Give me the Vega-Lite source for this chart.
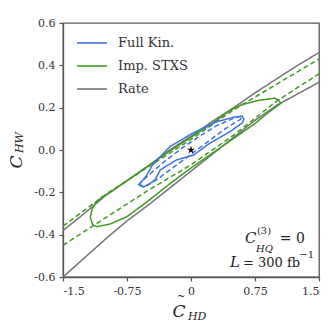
{
  "$schema": "https://vega.github.io/schema/vega-lite/v6.json",
  "autosize": "none",
  "width": 256,
  "height": 254,
  "padding": {"left": 63, "top": 23, "right": 13, "bottom": 55},
  "background": "white",
  "config": {
    "view": {"stroke": "#555", "strokeWidth": 1.3},
    "axis": {"grid": false, "domainColor": "#555", "domainWidth": 1.3, "tickColor": "#555", "tickSize": 4, "tickWidth": 1.2, "labelFont": "DejaVu Serif", "labelFontSize": 11, "labelColor": "#333", "labelPadding": 4, "title": null},
    "legend": {"orient": "none", "legendX": 13, "legendY": 4, "symbolType": "stroke", "symbolSize": 900, "symbolStrokeWidth": 1.6, "labelFont": "DejaVu Serif", "labelFontSize": 13, "labelColor": "#333", "rowPadding": -10, "labelOffset": 10, "padding": 0, "title": null}
  },
  "layer": [
    {
      "data": {"values": [
        {"c": "rate_up", "g": "Rate", "d": "solid", "o": 0, "x": -1.5, "y": -0.38},
        {"c": "rate_up", "g": "Rate", "d": "solid", "o": 1, "x": -1.25, "y": -0.3},
        {"c": "rate_up", "g": "Rate", "d": "solid", "o": 2, "x": -1.0, "y": -0.215},
        {"c": "rate_up", "g": "Rate", "d": "solid", "o": 3, "x": -0.75, "y": -0.145},
        {"c": "rate_up", "g": "Rate", "d": "solid", "o": 4, "x": -0.5, "y": -0.075},
        {"c": "rate_up", "g": "Rate", "d": "solid", "o": 5, "x": -0.25, "y": 0.0},
        {"c": "rate_up", "g": "Rate", "d": "solid", "o": 6, "x": 0.0, "y": 0.065},
        {"c": "rate_up", "g": "Rate", "d": "solid", "o": 7, "x": 0.25, "y": 0.135},
        {"c": "rate_up", "g": "Rate", "d": "solid", "o": 8, "x": 0.5, "y": 0.2},
        {"c": "rate_up", "g": "Rate", "d": "solid", "o": 9, "x": 0.75, "y": 0.27},
        {"c": "rate_up", "g": "Rate", "d": "solid", "o": 10, "x": 1.0, "y": 0.335},
        {"c": "rate_up", "g": "Rate", "d": "solid", "o": 11, "x": 1.25, "y": 0.4},
        {"c": "rate_up", "g": "Rate", "d": "solid", "o": 12, "x": 1.5, "y": 0.46},
        {"c": "rate_lo", "g": "Rate", "d": "solid", "o": 0, "x": -1.5, "y": -0.6},
        {"c": "rate_lo", "g": "Rate", "d": "solid", "o": 1, "x": -1.25, "y": -0.51},
        {"c": "rate_lo", "g": "Rate", "d": "solid", "o": 2, "x": -1.0, "y": -0.42},
        {"c": "rate_lo", "g": "Rate", "d": "solid", "o": 3, "x": -0.75, "y": -0.335},
        {"c": "rate_lo", "g": "Rate", "d": "solid", "o": 4, "x": -0.5, "y": -0.26},
        {"c": "rate_lo", "g": "Rate", "d": "solid", "o": 5, "x": -0.25, "y": -0.18},
        {"c": "rate_lo", "g": "Rate", "d": "solid", "o": 6, "x": 0.0, "y": -0.1},
        {"c": "rate_lo", "g": "Rate", "d": "solid", "o": 7, "x": 0.25, "y": -0.02},
        {"c": "rate_lo", "g": "Rate", "d": "solid", "o": 8, "x": 0.5, "y": 0.06},
        {"c": "rate_lo", "g": "Rate", "d": "solid", "o": 9, "x": 0.75, "y": 0.14},
        {"c": "rate_lo", "g": "Rate", "d": "solid", "o": 10, "x": 1.0, "y": 0.21},
        {"c": "rate_lo", "g": "Rate", "d": "solid", "o": 11, "x": 1.25, "y": 0.265},
        {"c": "rate_lo", "g": "Rate", "d": "solid", "o": 12, "x": 1.5, "y": 0.32},
        {"c": "stxs_dup", "g": "Imp. STXS", "d": "dashed", "o": 0, "x": -1.5, "y": -0.36},
        {"c": "stxs_dup", "g": "Imp. STXS", "d": "dashed", "o": 1, "x": -1.0, "y": -0.21},
        {"c": "stxs_dup", "g": "Imp. STXS", "d": "dashed", "o": 2, "x": -0.5, "y": -0.08},
        {"c": "stxs_dup", "g": "Imp. STXS", "d": "dashed", "o": 3, "x": 0.0, "y": 0.05},
        {"c": "stxs_dup", "g": "Imp. STXS", "d": "dashed", "o": 4, "x": 0.5, "y": 0.19},
        {"c": "stxs_dup", "g": "Imp. STXS", "d": "dashed", "o": 5, "x": 1.0, "y": 0.31},
        {"c": "stxs_dup", "g": "Imp. STXS", "d": "dashed", "o": 6, "x": 1.5, "y": 0.43},
        {"c": "stxs_dlo", "g": "Imp. STXS", "d": "dashed", "o": 0, "x": -1.5, "y": -0.45},
        {"c": "stxs_dlo", "g": "Imp. STXS", "d": "dashed", "o": 1, "x": -1.0, "y": -0.32},
        {"c": "stxs_dlo", "g": "Imp. STXS", "d": "dashed", "o": 2, "x": -0.5, "y": -0.19},
        {"c": "stxs_dlo", "g": "Imp. STXS", "d": "dashed", "o": 3, "x": 0.0, "y": -0.07},
        {"c": "stxs_dlo", "g": "Imp. STXS", "d": "dashed", "o": 4, "x": 0.5, "y": 0.07},
        {"c": "stxs_dlo", "g": "Imp. STXS", "d": "dashed", "o": 5, "x": 1.0, "y": 0.23},
        {"c": "stxs_dlo", "g": "Imp. STXS", "d": "dashed", "o": 6, "x": 1.5, "y": 0.36},
        {"c": "stxs_s", "g": "Imp. STXS", "d": "solid", "o": 0, "x": -1.18, "y": -0.32},
        {"c": "stxs_s", "g": "Imp. STXS", "d": "solid", "o": 1, "x": -1.16, "y": -0.28},
        {"c": "stxs_s", "g": "Imp. STXS", "d": "solid", "o": 2, "x": -1.12, "y": -0.25},
        {"c": "stxs_s", "g": "Imp. STXS", "d": "solid", "o": 3, "x": -1.05, "y": -0.225},
        {"c": "stxs_s", "g": "Imp. STXS", "d": "solid", "o": 4, "x": -0.95, "y": -0.2},
        {"c": "stxs_s", "g": "Imp. STXS", "d": "solid", "o": 5, "x": -0.75, "y": -0.145},
        {"c": "stxs_s", "g": "Imp. STXS", "d": "solid", "o": 6, "x": -0.5, "y": -0.075},
        {"c": "stxs_s", "g": "Imp. STXS", "d": "solid", "o": 7, "x": -0.25, "y": -0.005},
        {"c": "stxs_s", "g": "Imp. STXS", "d": "solid", "o": 8, "x": 0.0, "y": 0.06},
        {"c": "stxs_s", "g": "Imp. STXS", "d": "solid", "o": 9, "x": 0.25, "y": 0.125},
        {"c": "stxs_s", "g": "Imp. STXS", "d": "solid", "o": 10, "x": 0.45, "y": 0.185},
        {"c": "stxs_s", "g": "Imp. STXS", "d": "solid", "o": 11, "x": 0.6, "y": 0.215},
        {"c": "stxs_s", "g": "Imp. STXS", "d": "solid", "o": 12, "x": 0.7, "y": 0.225},
        {"c": "stxs_s", "g": "Imp. STXS", "d": "solid", "o": 13, "x": 0.8, "y": 0.235},
        {"c": "stxs_s", "g": "Imp. STXS", "d": "solid", "o": 14, "x": 0.9, "y": 0.24},
        {"c": "stxs_s", "g": "Imp. STXS", "d": "solid", "o": 15, "x": 0.98, "y": 0.245},
        {"c": "stxs_s", "g": "Imp. STXS", "d": "solid", "o": 16, "x": 1.03, "y": 0.235},
        {"c": "stxs_s", "g": "Imp. STXS", "d": "solid", "o": 17, "x": 1.05, "y": 0.22},
        {"c": "stxs_s", "g": "Imp. STXS", "d": "solid", "o": 18, "x": 1.0, "y": 0.205},
        {"c": "stxs_s", "g": "Imp. STXS", "d": "solid", "o": 19, "x": 0.9, "y": 0.175},
        {"c": "stxs_s", "g": "Imp. STXS", "d": "solid", "o": 20, "x": 0.75, "y": 0.125},
        {"c": "stxs_s", "g": "Imp. STXS", "d": "solid", "o": 21, "x": 0.5, "y": 0.055},
        {"c": "stxs_s", "g": "Imp. STXS", "d": "solid", "o": 22, "x": 0.25, "y": -0.015},
        {"c": "stxs_s", "g": "Imp. STXS", "d": "solid", "o": 23, "x": 0.0, "y": -0.085},
        {"c": "stxs_s", "g": "Imp. STXS", "d": "solid", "o": 24, "x": -0.25, "y": -0.16},
        {"c": "stxs_s", "g": "Imp. STXS", "d": "solid", "o": 25, "x": -0.5, "y": -0.24},
        {"c": "stxs_s", "g": "Imp. STXS", "d": "solid", "o": 26, "x": -0.75, "y": -0.315},
        {"c": "stxs_s", "g": "Imp. STXS", "d": "solid", "o": 27, "x": -0.95, "y": -0.35},
        {"c": "stxs_s", "g": "Imp. STXS", "d": "solid", "o": 28, "x": -1.1, "y": -0.362},
        {"c": "stxs_s", "g": "Imp. STXS", "d": "solid", "o": 29, "x": -1.15, "y": -0.355},
        {"c": "stxs_s", "g": "Imp. STXS", "d": "solid", "o": 30, "x": -1.18, "y": -0.32},
        {"c": "fk_s", "g": "Full Kin.", "d": "solid", "o": 0, "x": -0.6, "y": -0.16},
        {"c": "fk_s", "g": "Full Kin.", "d": "solid", "o": 1, "x": -0.52, "y": -0.12},
        {"c": "fk_s", "g": "Full Kin.", "d": "solid", "o": 2, "x": -0.45, "y": -0.07},
        {"c": "fk_s", "g": "Full Kin.", "d": "solid", "o": 3, "x": -0.25, "y": 0.015},
        {"c": "fk_s", "g": "Full Kin.", "d": "solid", "o": 4, "x": 0.0, "y": 0.075},
        {"c": "fk_s", "g": "Full Kin.", "d": "solid", "o": 5, "x": 0.3, "y": 0.134},
        {"c": "fk_s", "g": "Full Kin.", "d": "solid", "o": 6, "x": 0.5, "y": 0.155},
        {"c": "fk_s", "g": "Full Kin.", "d": "solid", "o": 7, "x": 0.6, "y": 0.16},
        {"c": "fk_s", "g": "Full Kin.", "d": "solid", "o": 8, "x": 0.62, "y": 0.145},
        {"c": "fk_s", "g": "Full Kin.", "d": "solid", "o": 9, "x": 0.6, "y": 0.128},
        {"c": "fk_s", "g": "Full Kin.", "d": "solid", "o": 10, "x": 0.46, "y": 0.087},
        {"c": "fk_s", "g": "Full Kin.", "d": "solid", "o": 11, "x": 0.22, "y": 0.032},
        {"c": "fk_s", "g": "Full Kin.", "d": "solid", "o": 12, "x": 0.03, "y": -0.024},
        {"c": "fk_s", "g": "Full Kin.", "d": "solid", "o": 13, "x": -0.17, "y": -0.047},
        {"c": "fk_s", "g": "Full Kin.", "d": "solid", "o": 14, "x": -0.36, "y": -0.094},
        {"c": "fk_s", "g": "Full Kin.", "d": "solid", "o": 15, "x": -0.42, "y": -0.14},
        {"c": "fk_s", "g": "Full Kin.", "d": "solid", "o": 16, "x": -0.5, "y": -0.165},
        {"c": "fk_s", "g": "Full Kin.", "d": "solid", "o": 17, "x": -0.56, "y": -0.175},
        {"c": "fk_s", "g": "Full Kin.", "d": "solid", "o": 18, "x": -0.6, "y": -0.16},
        {"c": "fk_d", "g": "Full Kin.", "d": "dashed", "o": 0, "x": -0.62, "y": -0.165},
        {"c": "fk_d", "g": "Full Kin.", "d": "dashed", "o": 1, "x": -0.5, "y": -0.12},
        {"c": "fk_d", "g": "Full Kin.", "d": "dashed", "o": 2, "x": -0.3, "y": -0.05},
        {"c": "fk_d", "g": "Full Kin.", "d": "dashed", "o": 3, "x": -0.1, "y": 0.01},
        {"c": "fk_d", "g": "Full Kin.", "d": "dashed", "o": 4, "x": 0.1, "y": 0.065},
        {"c": "fk_d", "g": "Full Kin.", "d": "dashed", "o": 5, "x": 0.3, "y": 0.115},
        {"c": "fk_d", "g": "Full Kin.", "d": "dashed", "o": 6, "x": 0.5, "y": 0.15},
        {"c": "fk_d", "g": "Full Kin.", "d": "dashed", "o": 7, "x": 0.6, "y": 0.16},
        {"c": "fk_d", "g": "Full Kin.", "d": "dashed", "o": 8, "x": 0.58, "y": 0.145},
        {"c": "fk_d", "g": "Full Kin.", "d": "dashed", "o": 9, "x": 0.4, "y": 0.1},
        {"c": "fk_d", "g": "Full Kin.", "d": "dashed", "o": 10, "x": 0.2, "y": 0.04},
        {"c": "fk_d", "g": "Full Kin.", "d": "dashed", "o": 11, "x": 0.0, "y": -0.02},
        {"c": "fk_d", "g": "Full Kin.", "d": "dashed", "o": 12, "x": -0.2, "y": -0.08},
        {"c": "fk_d", "g": "Full Kin.", "d": "dashed", "o": 13, "x": -0.4, "y": -0.14},
        {"c": "fk_d", "g": "Full Kin.", "d": "dashed", "o": 14, "x": -0.55, "y": -0.175},
        {"c": "fk_d", "g": "Full Kin.", "d": "dashed", "o": 15, "x": -0.62, "y": -0.165}
      ]},
      "mark": {"type": "line", "strokeWidth": 1.5, "clip": true},
      "encoding": {
        "x": {"field": "x", "type": "quantitative", "scale": {"domain": [-1.5, 1.5], "nice": false, "zero": false},
              "axis": {"values": [-1.5, -0.75, 0, 0.75, 1.5], "labelExpr": "datum.value == 0 ? '0' : replace(format(datum.value, ''), '−', '-')"}},
        "y": {"field": "y", "type": "quantitative", "scale": {"domain": [-0.6, 0.6], "nice": false, "zero": false},
              "axis": {"values": [-0.6, -0.4, -0.2, 0, 0.2, 0.4, 0.6], "labelExpr": "replace(format(datum.value, '.1f'), '−', '-')"}},
        "color": {"field": "g", "type": "nominal", "scale": {"domain": ["Full Kin.", "Imp. STXS", "Rate"], "range": ["#3d74de", "#3e9a22", "#737373"]}},
        "strokeDash": {"field": "d", "type": "nominal", "scale": {"domain": ["solid", "dashed"], "range": [[1, 0], [5, 3]]}, "legend": null},
        "detail": {"field": "c"},
        "order": {"field": "o", "type": "quantitative"}
      }
    },
    {
      "data": {"values": [{"x": 0, "y": 0}]},
      "mark": {"type": "point", "shape": "M0,-1L0.2245,-0.309L0.951,-0.309L0.363,0.118L0.588,0.809L0,0.382L-0.588,0.809L-0.363,0.118L-0.951,-0.309L-0.2245,-0.309Z", "filled": true, "color": "black", "size": 70, "opacity": 1},
      "encoding": {"x": {"field": "x", "type": "quantitative"}, "y": {"field": "y", "type": "quantitative"}}
    },
    {"data": {"values": [{}]}, "mark": {"type": "text", "text": "C", "font": "DejaVu Serif", "fontStyle": "italic", "fontSize": 17, "color": "#222", "angle": 270, "align": "center", "baseline": "middle"},
     "encoding": {"x": {"datum": -2.039}, "y": {"datum": -0.057}}},
    {"data": {"values": [{}]}, "mark": {"type": "text", "text": "HW", "font": "DejaVu Serif", "fontStyle": "italic", "fontSize": 11, "color": "#222", "angle": 270, "align": "center", "baseline": "middle"},
     "encoding": {"x": {"datum": -2.0}, "y": {"datum": 0.035}}},
    {"data": {"values": [{}]}, "mark": {"type": "text", "text": "C", "font": "DejaVu Serif", "fontStyle": "italic", "fontSize": 17, "color": "#222", "align": "center", "baseline": "alphabetic"},
     "encoding": {"x": {"datum": -0.141}, "y": {"datum": -0.79}}},
    {"data": {"values": [{}]}, "mark": {"type": "text", "text": "~", "font": "DejaVu Serif", "fontSize": 10, "color": "#222", "align": "center", "baseline": "bottom"},
     "encoding": {"x": {"datum": -0.115}, "y": {"datum": -0.712}}},
    {"data": {"values": [{}]}, "mark": {"type": "text", "text": "HD", "font": "DejaVu Serif", "fontStyle": "italic", "fontSize": 11, "color": "#222", "align": "left", "baseline": "alphabetic"},
     "encoding": {"x": {"datum": -0.035}, "y": {"datum": -0.803}}},
    {"data": {"values": [{}]}, "mark": {"type": "text", "text": "C", "font": "DejaVu Serif", "fontStyle": "italic", "fontSize": 15, "color": "#222", "align": "left", "baseline": "alphabetic"},
     "encoding": {"x": {"datum": 0.633}, "y": {"datum": -0.439}}},
    {"data": {"values": [{}]}, "mark": {"type": "text", "text": "(3)", "font": "DejaVu Serif", "fontSize": 10, "color": "#222", "align": "left", "baseline": "alphabetic"},
     "encoding": {"x": {"datum": 0.773}, "y": {"datum": -0.397}}},
    {"data": {"values": [{}]}, "mark": {"type": "text", "text": "HQ", "font": "DejaVu Serif", "fontStyle": "italic", "fontSize": 10, "color": "#222", "align": "left", "baseline": "alphabetic"},
     "encoding": {"x": {"datum": 0.762}, "y": {"datum": -0.481}}},
    {"data": {"values": [{}]}, "mark": {"type": "text", "text": "= 0", "font": "DejaVu Serif", "fontSize": 14, "color": "#222", "align": "left", "baseline": "alphabetic"},
     "encoding": {"x": {"datum": 1.04}, "y": {"datum": -0.439}}},
    {"data": {"values": [{}]}, "mark": {"type": "text", "text": "L", "font": "DejaVu Serif", "fontStyle": "italic", "fontSize": 15, "color": "#222", "align": "left", "baseline": "alphabetic"},
     "encoding": {"x": {"datum": 0.457}, "y": {"datum": -0.553}}},
    {"data": {"values": [{}]}, "mark": {"type": "text", "text": "= 300 fb", "font": "DejaVu Serif", "fontSize": 13, "color": "#222", "align": "left", "baseline": "alphabetic"},
     "encoding": {"x": {"datum": 0.609}, "y": {"datum": -0.553}}},
    {"data": {"values": [{}]}, "mark": {"type": "text", "text": "−1", "font": "DejaVu Serif", "fontSize": 10, "color": "#222", "align": "left", "baseline": "alphabetic"},
     "encoding": {"x": {"datum": 1.27}, "y": {"datum": -0.51}}}
  ]
}
